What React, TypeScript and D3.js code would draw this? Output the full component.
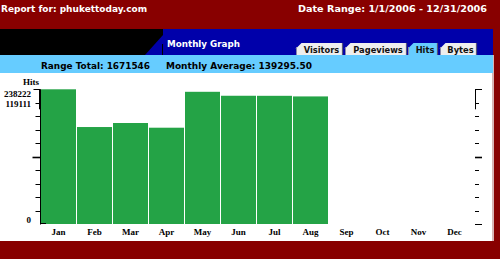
import React from "react";
import * as d3 from "d3";

const months = ["Jan", "Feb", "Mar", "Apr", "May", "Jun", "Jul", "Aug", "Sep", "Oct", "Nov", "Dec"];
const hitMonths = ["Jan", "Feb", "Mar", "Apr", "May", "Jun", "Jul", "Aug"];
const hits = [238222, 171500, 178600, 170300, 233800, 226800, 226700, 225624];
const yMax = 238222;
const yTickCount = 10;
const yLabels = [
  { text: "238222", tickIndex: 10, dy: 7.7 },
  { text: "119111", tickIndex: 9, dy: 4.7 },
  { text: "0", tickIndex: 0, dy: -1 },
];
const tabs = ["Visitors", "Pageviews", "Hits", "Bytes"];
const activeTab = "Hits";
const reportFor = "Report for: phukettoday.com";
const dateRange = "Date Range: 1/1/2006 - 12/31/2006";
const graphTitle = "Monthly Graph";
const rangeTotal = "Range Total: 1671546";
const monthlyAvg = "Monthly Average: 139295.50";
const axisTitle = "Hits";

const W = 500;
const H = 259;
const DARK_RED = "#880000";
const BLUE = "#0000aa";
const LIGHT_BLUE = "#66ccff";
const GREEN = "#24a346";
const SANS = "'DejaVu Sans', Verdana, sans-serif";
const SERIF = "'Liberation Serif', 'Times New Roman', serif";

const tabBoxes = [
  { x0: 296, x1: 343 },
  { x0: 345, x1: 407 },
  { x0: 408, x1: 438 },
  { x0: 440, x1: 477 },
];

export default function App() {
  const plotLeft = 41;
  const plotRight = 473;
  const plotTop = 89.3;
  const plotBottom = 224;

  const x = d3.scaleBand<string>().domain(months).range([plotLeft, plotRight]).padding(0);
  const y = d3.scaleLinear().domain([0, yMax]).range([plotBottom, plotTop]);
  const tickVals = d3.range(yTickCount + 1).map((i) => (yMax * i) / yTickCount);
  const rightAxisX = 475.5;

  return (
    <svg
      width={W}
      height={H}
      style={{ position: "absolute", left: 0, top: 0, display: "block" }}
      xmlns="http://www.w3.org/2000/svg"
    >
      {/* background frame */}
      <rect x={0} y={0} width={W} height={H} fill={DARK_RED} />
      <rect x={0} y={29} width={492} height={212} fill="#ffffff" />
      <rect x={492} y={55} width={2} height={186} fill="#d8b4b4" />

      {/* black band + blue band */}
      <rect x={0} y={29} width={493} height={26} fill="#000000" />
      <rect x={163} y={29} width={330} height={26} fill={BLUE} />
      <polygon points="145,55 163,35 163,55" fill={BLUE} />
      <line x1={162.5} y1={44} x2={162.5} y2={55} stroke="#000000" strokeWidth={1} />

      {/* light blue strip */}
      <rect x={0} y={55} width={493} height={18} fill={LIGHT_BLUE} />

      {/* header texts */}
      <text x={1} y={11.5} fontFamily={SANS} fontWeight="bold" fontSize={9} fill="#ffffff" textLength={146} lengthAdjust="spacingAndGlyphs">
        {reportFor}
      </text>
      <text x={298} y={11.5} fontFamily={SANS} fontWeight="bold" fontSize={9} fill="#ffffff" textLength={189} lengthAdjust="spacingAndGlyphs">
        {dateRange}
      </text>
      <text x={167} y={47.3} fontFamily={SANS} fontWeight="bold" fontSize={8.8} fill="#ffffff" textLength={73} lengthAdjust="spacingAndGlyphs">
        {graphTitle}
      </text>
      <text x={41} y={69} fontFamily={SANS} fontWeight="bold" fontSize={9} fill="#000000" textLength={109} lengthAdjust="spacingAndGlyphs">
        {rangeTotal}
      </text>
      <text x={166} y={69} fontFamily={SANS} fontWeight="bold" fontSize={9} fill="#000000" textLength={146} lengthAdjust="spacingAndGlyphs">
        {monthlyAvg}
      </text>

      {/* tabs */}
      {tabs.map((t, i) => {
        const b = tabBoxes[i];
        const active = t === activeTab;
        return (
          <g key={t}>
            <polygon
              points={`${b.x0},55 ${b.x0},48.5 ${b.x0 + 5.5},43 ${b.x1},43 ${b.x1},55`}
              fill={active ? LIGHT_BLUE : "#eeeeee"}
            />
            <line x1={b.x0 + 0.5} y1={47} x2={b.x0 + 0.5} y2={55} stroke="#8888aa" strokeWidth={1} />
            <line x1={b.x1 - 0.5} y1={43} x2={b.x1 - 0.5} y2={55} stroke="#555577" strokeWidth={1.2} />
            <text
              x={(b.x0 + b.x1) / 2 + 2}
              y={53.3}
              textAnchor="middle"
              fontFamily={SANS}
              fontWeight="bold"
              fontSize={8.3}
              fill="#111111"
            >
              {t}
            </text>
          </g>
        );
      })}

      {/* bars */}
      {hits.map((v, i) => (
        <rect
          key={hitMonths[i]}
          x={x(hitMonths[i])!}
          y={y(v)}
          width={x.bandwidth() - 1}
          height={plotBottom - y(v)}
          fill={GREEN}
        />
      ))}

      {/* left axis */}
      <line x1={40.5} y1={plotTop} x2={40.5} y2={plotBottom + 0.5} stroke="#000" strokeWidth={1} />
      <line x1={39.5} y1={plotTop} x2={39.5} y2={plotTop + 20} stroke="#000" strokeWidth={1} />
      {tickVals.map((v, i) => {
        const yy = Math.round(y(v)) + 0.5;
        const len = i === 5 ? 8 : i === 10 ? 7 : i === 0 ? 0 : 5;
        return <line key={i} x1={40.5 - len} y1={yy} x2={40.5} y2={yy} stroke="#000" strokeWidth={i === 5 ? 1.6 : 1} />;
      })}
      <line x1={40} y1={plotBottom - 0.5} x2={46} y2={plotBottom - 0.5} stroke="#000" strokeWidth={1} />

      {yLabels.map((l) => (
        <text
          key={l.text}
          x={31}
          y={y(tickVals[l.tickIndex]) + l.dy}
          textAnchor="end"
          fontFamily={SERIF}
          fontWeight="bold"
          fontSize={9}
          fill="#000"
        >
          {l.text}
        </text>
      ))}
      <text x={23} y={85} fontFamily={SERIF} fontWeight="bold" fontSize={9} fill="#000">
        {axisTitle}
      </text>

      {/* right axis */}
      <line x1={rightAxisX} y1={plotTop} x2={rightAxisX} y2={plotTop + 20} stroke="#000" strokeWidth={1} />
      {tickVals.map((v, i) => {
        const yy = Math.round(y(v)) + 0.5;
        const len = i === 5 || i === 10 || i === 0 ? 7 : 4;
        return <line key={i} x1={rightAxisX - 0.5} y1={yy} x2={rightAxisX - 0.5 + len} y2={yy} stroke="#000" strokeWidth={i === 5 ? 1.6 : 1} />;
      })}

      {/* month labels */}
      {months.map((m) => (
        <text
          key={m}
          x={x(m)! + x.bandwidth() / 2 - 0.5}
          y={234.5}
          textAnchor="middle"
          fontFamily={SERIF}
          fontWeight="bold"
          fontSize={9}
          fill="#000"
        >
          {m}
        </text>
      ))}
    </svg>
  );
}
